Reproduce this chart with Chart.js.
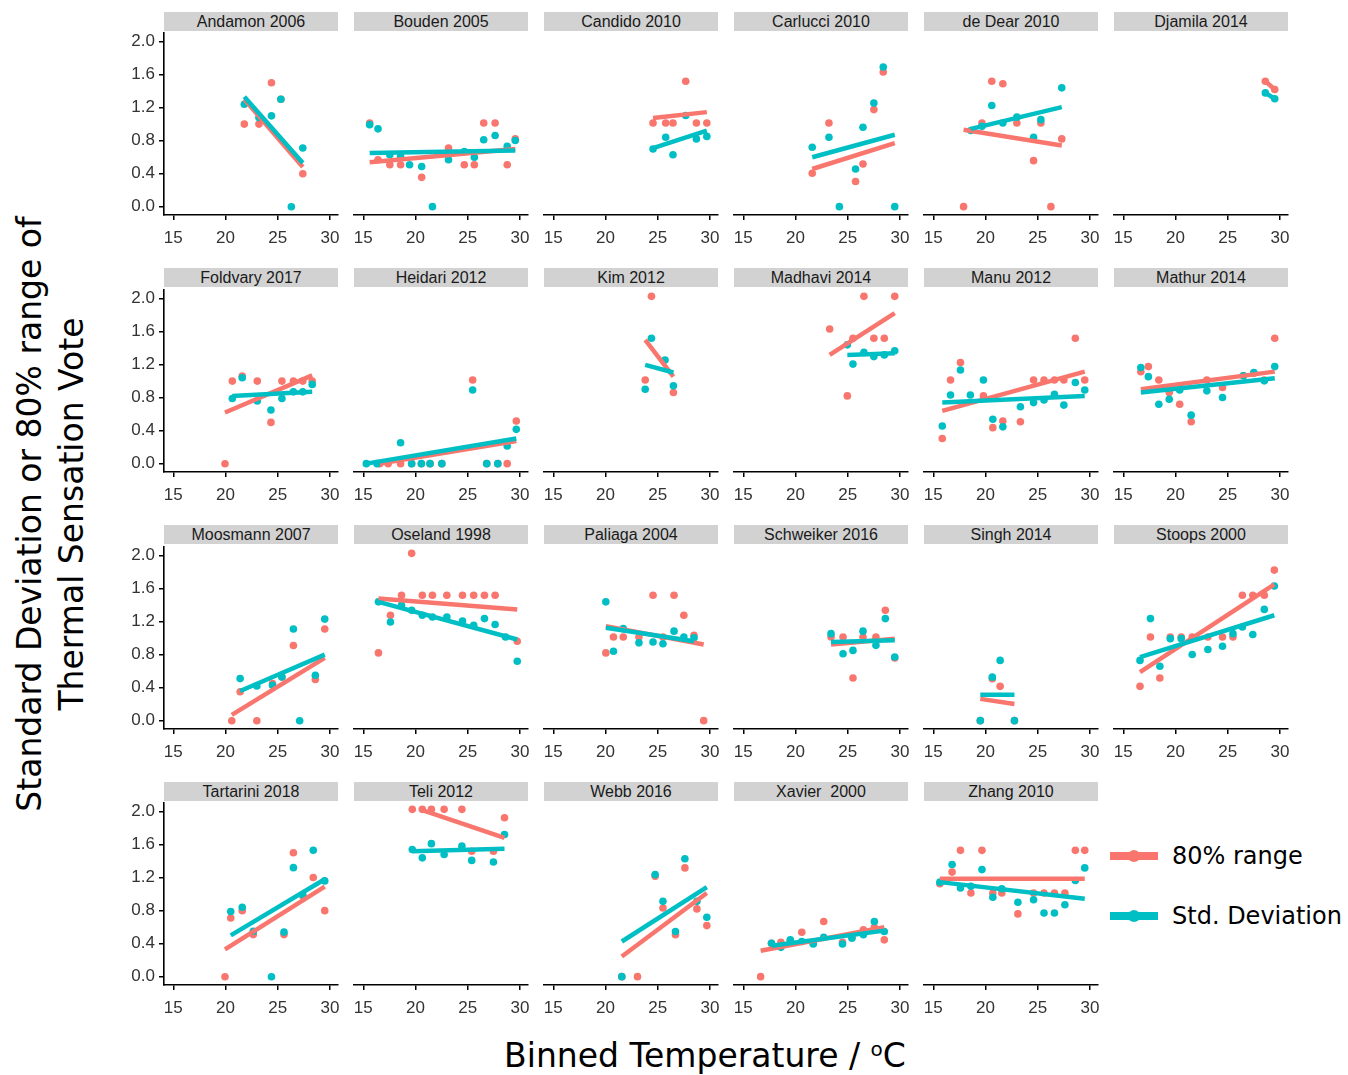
<!DOCTYPE html>
<html>
<head>
<meta charset="utf-8">
<script src="https://cdn.jsdelivr.net/npm/chart.js@4.4.1/dist/chart.umd.min.js"></script>
<style>
  body { margin: 0; background: #fff; width: 1348px; height: 1075px; position: relative; overflow: hidden; font-family: "DejaVu Sans", sans-serif; }
  canvas { position: absolute; }
  .strip { position: absolute; background: #d2d2d2; color: #1a1a1a; font: 16px "Liberation Sans", Arial, sans-serif; text-align: center; white-space: pre; line-height: 19px; }
  .ytitle { position: absolute; width: 800px; height: 84px; left: -349px; top: 472px; line-height: 42px; font-size: 33px; text-align: center; transform: rotate(-90deg); color: #000; }
  .xtitle { position: absolute; width: 600px; left: 405px; top: 1029px; line-height: 40px; font-size: 33px; text-align: center; color: #000; }
  .xtitle span { font-size: 20px; vertical-align: 11px; }
  .key { position: absolute; left: 1110px; width: 48px; height: 8px; }
  .key i { position: absolute; left: 18px; top: -2px; width: 12px; height: 12px; border-radius: 50%; }
  .keytext { position: absolute; left: 1172px; font-size: 24px; line-height: 30px; color: #000; white-space: nowrap; }
</style>
</head>
<body>
<div class="ytitle">Standard Deviation or 80% range of<br>Thermal Sensation Vote</div>
<div class="xtitle">Binned Temperature / <span>o</span>C</div>

<script>
// rows are [binned temperature, 80% range, std. deviation]; null = no point
const andamon = [[21.8, 1.0, 1.24], [23.2, 1.0, 1.08], [24.4, 1.5, 1.10], [25.3, 1.3, 1.30], [26.3, null, 0.0], [27.4, 0.40, 0.71]];
const bouden = [[15.61, 1.0, 0.98], [16.41, 0.56, 0.93], [17.54, 0.50, 0.62], [18.57, 0.50, 0.60], [19.43, null, 0.50], [20.59, 0.35, 0.48], [21.62, null, 0.0], [23.16, 0.70, 0.56], [24.67, 0.50, 0.66], [25.63, 0.50, 0.59], [26.53, 1.0, 0.80], [27.62, 1.0, 0.85], [28.78, 0.50, 0.72], [29.55, 0.81, 0.79]];
const candido = [[24.55, 1.0, 0.69], [25.76, 1.0, 0.83], [26.46, 1.0, 0.62], [27.68, 1.5, 1.09], [28.7, 1.0, 0.81], [29.7, 1.0, 0.84]];
const carlucci = [[21.6, 0.40, 0.71], [23.2, 1.0, 0.83], [24.2, null, 0.0], [25.75, 0.30, 0.45], [26.46, 0.51, 0.95], [27.5, 1.16, 1.24], [28.4, 1.61, 1.67], [29.5, null, 0.0]];
const deDear = [[17.9, 0.0, null], [18.6, null, 0.91], [19.66, 1.0, 0.96], [20.6, 1.5, 1.21], [21.66, 1.47, 1.0], [23.0, 1.0, 1.07], [24.6, 0.55, 0.83], [25.3, 1.0, 1.04], [26.26, 0.0, null], [27.3, 0.81, 1.42]];
const djamila = [[28.6, 1.50, 1.36], [29.5, 1.40, 1.29]];
const foldvary = [[19.95, 0.0, null], [20.65, 1.0, 0.79], [21.6, 1.06, 1.04], [23.04, 1.0, 0.76], [24.35, 0.50, 0.65], [25.4, 1.0, 0.79], [26.5, 1.0, 0.87], [27.4, 1.0, 0.87], [28.3, 1.0, 0.96]];
const heidari = [[15.29, null, 0.0], [16.32, null, 0.0], [16.57, 0.0, null], [17.38, 0.0, null], [18.57, 0.0, 0.25], [19.63, 0.0, 0.0], [20.56, 0.0, 0.0], [21.39, 0.0, 0.0], [22.52, 0.0, 0.0], [25.47, 1.0, 0.88], [26.82, 0.0, 0.0], [27.88, 0.0, 0.0], [28.78, 0.0, 0.21], [29.65, 0.51, 0.41]];
const kim = [[23.8, 1.0, 0.89], [24.4, 2.0, 1.50], [25.7, null, 1.24], [26.5, 0.85, 0.93]];
const madhavi = [[23.27, 1.61, null], [24.96, 0.81, 1.42], [25.5, 1.50, 1.19], [26.55, 2.0, 1.33], [27.5, 1.50, 1.28], [28.5, 1.50, 1.30], [29.5, 2.0, 1.35]];
const manu = [[15.86, 0.30, 0.45], [16.65, 1.0, 0.82], [17.6, 1.21, 1.12], [18.55, null, 0.82], [19.8, 0.81, 1.0], [20.7, 0.43, 0.53], [21.66, 0.51, 0.44], [23.34, 0.50, 0.68], [24.6, 1.0, 0.73], [25.6, 1.0, 0.76], [26.6, 1.0, 0.83], [27.5, 1.0, 0.70], [28.6, 1.50, 0.97], [29.5, 1.0, 0.88]];
const mathur = [[16.68, 1.10, 1.15], [17.4, 1.16, 1.04], [18.4, 1.0, 0.71], [19.4, 0.85, 0.77], [20.4, 0.71, 0.88], [21.5, 0.50, 0.58], [23.0, 1.0, 0.87], [24.5, 0.91, 0.79], [26.5, 1.05, 1.05], [27.5, 1.08, 1.09], [28.5, 1.0, 0.99], [29.5, 1.50, 1.16]];
const moosmann = [[20.6, 0.0, null], [21.4, 0.35, 0.51], [23.0, 0.0, 0.42], [24.5, 0.45, 0.43], [25.4, 0.53, 0.53], [26.5, 0.91, 1.11], [27.1, null, 0.0], [28.6, 0.50, 0.55], [29.5, 1.11, 1.23]];
const oseland = [[16.45, 0.81, 1.42], [17.6, 1.26, 1.18], [18.66, 1.50, 1.38], [19.63, 2.0, 1.32], [20.65, 1.5, 1.26], [21.62, 1.5, 1.24], [23.0, 1.5, 1.24], [24.5, 1.5, 1.19], [25.57, 1.5, 1.14], [26.6, 1.5, 1.22], [27.62, 1.5, 1.15], [28.62, null, 1.0], [29.74, 0.95, 0.71]];
const paliaga = [[20.03, 0.81, 1.42], [20.76, 1.0, 0.83], [21.7, 1.0, 1.10], [23.2, 1.0, 0.93], [24.55, 1.50, 0.94], [25.5, 1.0, 0.92], [26.56, 1.5, 1.07], [27.5, 1.26, 1.0], [28.47, 1.02, 0.99], [29.4, 0.0, null]];
const schweiker = [[23.4, 1.0, 1.04], [24.55, 1.0, 0.80], [25.5, 0.51, 0.84], [26.46, 1.0, 1.07], [27.7, 1.0, 0.90], [28.6, 1.32, 1.22], [29.5, 0.75, 0.76]];
const singh = [[19.5, 0.0, 0.0], [20.65, 0.50, 0.52], [21.4, 0.41, 0.72], [22.77, 0.0, 0.0]];
const stoops = [[16.6, 0.41, 0.72], [17.6, 1.0, 1.22], [18.5, 0.51, 0.65], [19.5, 1.0, 0.98], [20.55, 1.0, 0.98], [21.6, 1.0, 0.79], [23.1, 1.0, 0.85], [24.5, 1.0, 0.89], [25.5, 1.0, 1.04], [26.4, 1.5, 1.12], [27.4, 1.5, 1.03], [28.5, 1.5, 1.33], [29.46, 1.80, 1.61]];
const tartarini = [[19.95, 0.0, null], [20.5, 0.71, 0.79], [21.6, 0.80, 0.84], [22.66, 0.51, 0.55], [24.4, null, 0.0], [25.6, 0.51, 0.54], [26.5, 1.50, 1.32], [27.4, 0.98, 0.99], [28.4, 1.20, 1.53], [29.5, 0.80, 1.16]];
const teli = [[19.69, 2.0, 1.52], [20.65, 2.0, 1.42], [21.52, 2.0, 1.59], [22.74, 2.0, 1.46], [24.44, 2.0, 1.56], [25.38, 1.50, 1.39], [27.46, 1.50, 1.37], [28.52, 1.90, 1.70]];
const webb = [[21.56, 0.0, 0.0], [23.06, 0.0, null], [24.75, 1.20, 1.22], [25.5, 0.82, 0.90], [26.7, 0.50, 0.54], [27.6, 1.30, 1.41], [28.75, 0.81, 0.90], [29.7, 0.61, 0.71]];
const xavier = [[16.66, 0.0, null], [17.7, 0.40, 0.40], [18.6, 0.41, 0.35], [19.5, 0.43, 0.44], [20.6, 0.53, 0.42], [21.7, 0.40, 0.39], [22.7, 0.66, 0.47], [24.5, 0.41, 0.39], [25.4, 0.47, 0.46], [26.5, 0.56, 0.50], [27.55, 0.59, 0.66], [28.5, 0.44, 0.54]];
const zhang = [[15.63, 1.11, 1.13], [16.8, 1.25, 1.34], [17.6, 1.51, 1.06], [18.6, 1.0, 1.08], [19.66, 1.51, 1.28], [20.7, 1.0, 0.95], [21.56, 1.0, 1.05], [23.1, 0.75, 0.89], [24.6, 1.0, 0.92], [25.6, 1.0, 0.76], [26.6, 1.0, 0.76], [27.6, 1.0, 0.86], [28.6, 1.51, 1.15], [29.5, 1.51, 1.30]];

// fitted lines: [x start, y start, x end, y end] for range, then std. dev.
const andamonFit = [[21.8, 1.30, 27.4, 0.48], [21.8, 1.33, 27.4, 0.53]];
const boudenFit = [[15.61, 0.53, 29.55, 0.69], [15.61, 0.64, 29.55, 0.67]];
const candidoFit = [[24.55, 1.06, 29.7, 1.13], [24.55, 0.70, 29.7, 0.91]];
const carlucciFit = [[21.6, 0.45, 29.5, 0.76], [21.6, 0.59, 29.5, 0.86]];
const deDearFit = [[17.9, 0.92, 27.3, 0.73], [18.6, 0.93, 27.3, 1.19]];
const djamilaFit = [[28.6, 1.50, 29.5, 1.40], [28.6, 1.36, 29.5, 1.29]];
const foldvaryFit = [[19.95, 0.62, 28.3, 1.07], [20.65, 0.82, 28.3, 0.87]];
const heidariFit = [[16.57, 0.0, 29.65, 0.27], [15.29, 0.0, 29.65, 0.30]];
const kimFit = [[23.8, 1.48, 26.5, 1.04], [23.8, 1.18, 26.5, 1.09]];
const madhaviFit = [[23.27, 1.30, 29.5, 1.80], [24.96, 1.30, 29.5, 1.32]];
const manuFit = [[15.86, 0.63, 29.5, 1.10], [15.86, 0.73, 29.5, 0.81]];
const mathurFit = [[16.68, 0.89, 29.5, 1.10], [16.68, 0.85, 29.5, 1.02]];
const moosmannFit = [[20.6, 0.07, 29.5, 0.76], [21.4, 0.36, 29.5, 0.80]];
const oselandFit = [[16.45, 1.46, 29.74, 1.33], [16.45, 1.42, 29.74, 0.97]];
const paliagaFit = [[20.03, 1.13, 29.4, 0.91], [20.03, 1.11, 28.47, 0.95]];
const schweikerFit = [[23.4, 0.91, 29.5, 0.98], [23.4, 0.94, 29.5, 0.96]];
const singhFit = [[19.5, 0.26, 22.77, 0.20], [19.5, 0.31, 22.77, 0.31]];
const stoopsFit = [[16.6, 0.58, 29.46, 1.63], [16.6, 0.76, 29.46, 1.26]];
const tartariniFit = [[19.95, 0.33, 29.5, 1.09], [20.5, 0.50, 29.5, 1.18]];
const teliFit = [[20.65, 1.99, 28.52, 1.66], [19.69, 1.50, 28.52, 1.53]];
const webbFit = [[21.56, 0.24, 29.7, 1.0], [21.56, 0.42, 29.7, 1.07]];
const xavierFit = [[16.66, 0.31, 28.5, 0.59], [17.7, 0.37, 28.5, 0.55]];
const zhangFit = [[15.63, 1.17, 29.5, 1.17], [15.63, 1.13, 29.5, 0.93]];

const studies = ['Andamon 2006', 'Bouden 2005', 'Candido 2010', 'Carlucci 2010', 'de Dear 2010', 'Djamila 2014',
  'Foldvary 2017', 'Heidari 2012', 'Kim 2012', 'Madhavi 2014', 'Manu 2012', 'Mathur 2014',
  'Moosmann 2007', 'Oseland 1998', 'Paliaga 2004', 'Schweiker 2016', 'Singh 2014', 'Stoops 2000',
  'Tartarini 2018', 'Teli 2012', 'Webb 2016', 'Xavier  2000', 'Zhang 2010'];
const studyPoints = [andamon, bouden, candido, carlucci, deDear, djamila, foldvary, heidari, kim, madhavi, manu, mathur,
  moosmann, oseland, paliaga, schweiker, singh, stoops, tartarini, teli, webb, xavier, zhang];
const studyFits = [andamonFit, boudenFit, candidoFit, carlucciFit, deDearFit, djamilaFit, foldvaryFit, heidariFit, kimFit, madhaviFit, manuFit, mathurFit,
  moosmannFit, oselandFit, paliagaFit, schweikerFit, singhFit, stoopsFit, tartariniFit, teliFit, webbFit, xavierFit, zhangFit];

const seriesNames = ['80% range', 'Std. Deviation'];
const seriesColors = ['#F8766D', '#00BFC4'];
const xTicks = [15, 20, 25, 30];
const yTicks = [0, 0.4, 0.8, 1.2, 1.6, 2.0];

// panel geometry (px)
const X0 = 164, DX = 190, PW = 174;
const Y0 = 31, DY = 256.8, PH = 184;
const YW = 50, XH = 36, PAD = 12;

const tickFont = { family: 'Liberation Sans', size: 17 };

function pts(rows, k) {
  return rows.filter(r => r[k] !== null).map(r => ({ x: r[0], y: r[k] }));
}
function fitLine(f) {
  return [{ x: f[0], y: f[1] }, { x: f[2], y: f[3] }];
}

studies.forEach((name, i) => {
  const col = i % 6, row = Math.floor(i / 6);
  const left = X0 + col * DX, top = Y0 + row * DY;
  const yw = col === 0 ? YW : 0;
  const rows = studyPoints[i], fits = studyFits[i];

  const strip = document.createElement('div');
  strip.className = 'strip';
  strip.textContent = name;
  Object.assign(strip.style, { left: left + 'px', top: (top - 19.5) + 'px', width: PW + 'px', height: '19px' });
  document.body.appendChild(strip);

  const canvas = document.createElement('canvas');
  canvas.width = PW + yw + 2 * PAD;
  canvas.height = PH + XH + 2 * PAD;
  canvas.style.left = (left - yw - PAD) + 'px';
  canvas.style.top = (top - PAD) + 'px';
  document.body.appendChild(canvas);

  const lineSet = k => ({
    label: seriesNames[k] + ' fit', data: fitLine(fits[k]), showLine: true,
    borderColor: seriesColors[k], borderWidth: 4.5, pointRadius: 0, borderCapStyle: 'butt'
  });
  const pointSet = k => ({
    label: seriesNames[k], data: pts(rows, k + 1), showLine: false,
    backgroundColor: seriesColors[k], borderWidth: 0, pointRadius: 3.8
  });

  new Chart(canvas, {
    type: 'scatter',
    data: { datasets: [lineSet(1), lineSet(0), pointSet(1), pointSet(0)] },
    options: {
      responsive: false,
      animation: false,
      layout: { padding: { left: PAD, right: PAD, top: PAD, bottom: PAD } },
      plugins: { legend: { display: false }, tooltip: { enabled: false } },
      scales: {
        x: {
          type: 'linear', min: 14.11, max: 30.77,
          afterBuildTicks: s => { s.ticks = xTicks.map(v => ({ value: v })); },
          afterFit: s => { s.height = XH; },
          grid: { drawOnChartArea: false, drawTicks: true, tickLength: 5, color: '#000', lineWidth: 1.5 },
          border: { display: true, color: '#000', width: 1.6 },
          ticks: { color: '#333', font: tickFont, padding: 8, maxRotation: 0, autoSkip: false }
        },
        y: {
          display: col === 0, min: -0.1, max: 2.1,
          afterBuildTicks: s => { s.ticks = yTicks.map(v => ({ value: v })); },
          afterFit: s => { s.width = yw; },
          grid: { drawOnChartArea: false, drawTicks: true, tickLength: 5, color: '#000', lineWidth: 1.5 },
          border: { display: true, color: '#000', width: 1.6 },
          ticks: { color: '#333', font: tickFont, padding: 4, callback: v => v.toFixed(1) }
        }
      }
    }
  });
});

// legend
seriesNames.forEach((name, k) => {
  const cy = 856 + k * 60;
  const key = document.createElement('div');
  key.className = 'key';
  key.style.top = (cy - 4) + 'px';
  key.style.background = seriesColors[k];
  const dot = document.createElement('i');
  dot.style.background = seriesColors[k];
  key.appendChild(dot);
  document.body.appendChild(key);
  const txt = document.createElement('div');
  txt.className = 'keytext';
  txt.style.top = (cy - 15) + 'px';
  txt.textContent = name;
  document.body.appendChild(txt);
});
</script>
</body>
</html>
